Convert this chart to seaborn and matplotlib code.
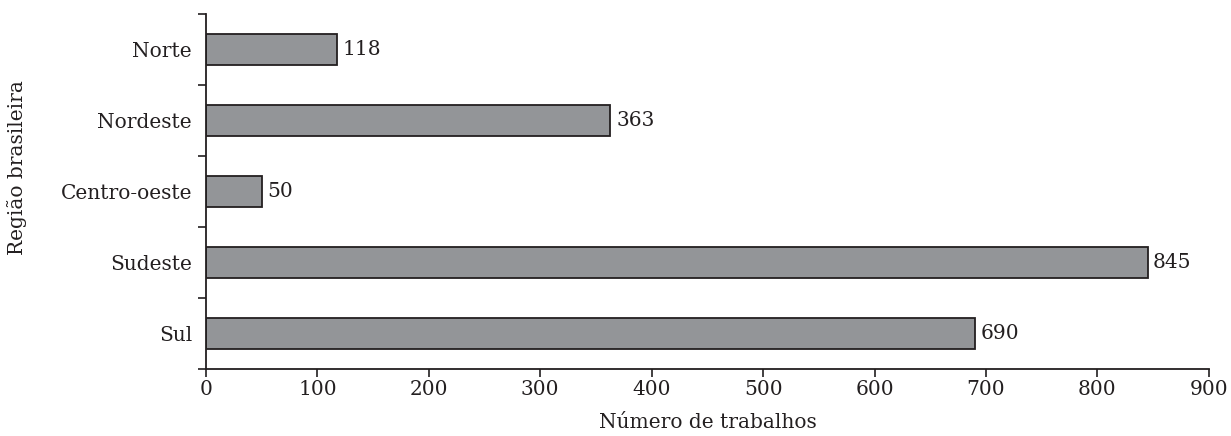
import numpy as np
import pandas as pd
import seaborn as sns
import matplotlib.pyplot as plt
from matplotlib.ticker import FixedLocator

regioes = ["Norte", "Nordeste", "Centro-oeste", "Sudeste", "Sul"]
trabalhos = [118, 363, 50, 845, 690]

df = pd.DataFrame({"regiao": regioes, "trabalhos": trabalhos})

sns.set_style("ticks")
plt.rcParams['font.family'] = ['DejaVu Serif']
plt.rcParams['axes.edgecolor'] = '#231f20'

fs = 14.5
fig = plt.figure(figsize=(12.31, 4.36), dpi=100)
ax = fig.add_axes([0.1673, 0.1537, 0.8147, 0.8142])

sns.barplot(data=df, x="trabalhos", y="regiao", orient="h", color="#939598",
            edgecolor="#231f20", linewidth=1.3, width=0.43, saturation=1, ax=ax)

for c in ax.containers:
    ax.bar_label(c, padding=4, fontsize=fs, color="#231f20")

ax.set_xlim(0, 900)
ax.set_ylim(4.5, -0.5)
ax.set_xticks(np.arange(0, 901, 100))
ax.yaxis.set_minor_locator(FixedLocator(np.arange(-0.5, 5, 1)))
ax.tick_params(axis='y', which='major', length=0, pad=10, labelsize=fs, colors='#231f20')
ax.tick_params(axis='y', which='minor', length=6, width=1.2, color='#231f20')
ax.tick_params(axis='x', length=6, width=1.2, labelsize=fs, colors='#231f20', pad=2)
for s in ["top", "right"]:
    ax.spines[s].set_visible(False)
for s in ["left", "bottom"]:
    ax.spines[s].set_linewidth(1.3)

ax.set_xlabel("Número de trabalhos", fontsize=fs, color='#231f20')
ax.set_ylabel("Região brasileira", fontsize=fs, color='#231f20')
ax.xaxis.set_label_coords(0.5, -0.125)
ax.yaxis.set_label_coords(-0.178, 0.566)

fig.savefig("out.png", dpi=100)
